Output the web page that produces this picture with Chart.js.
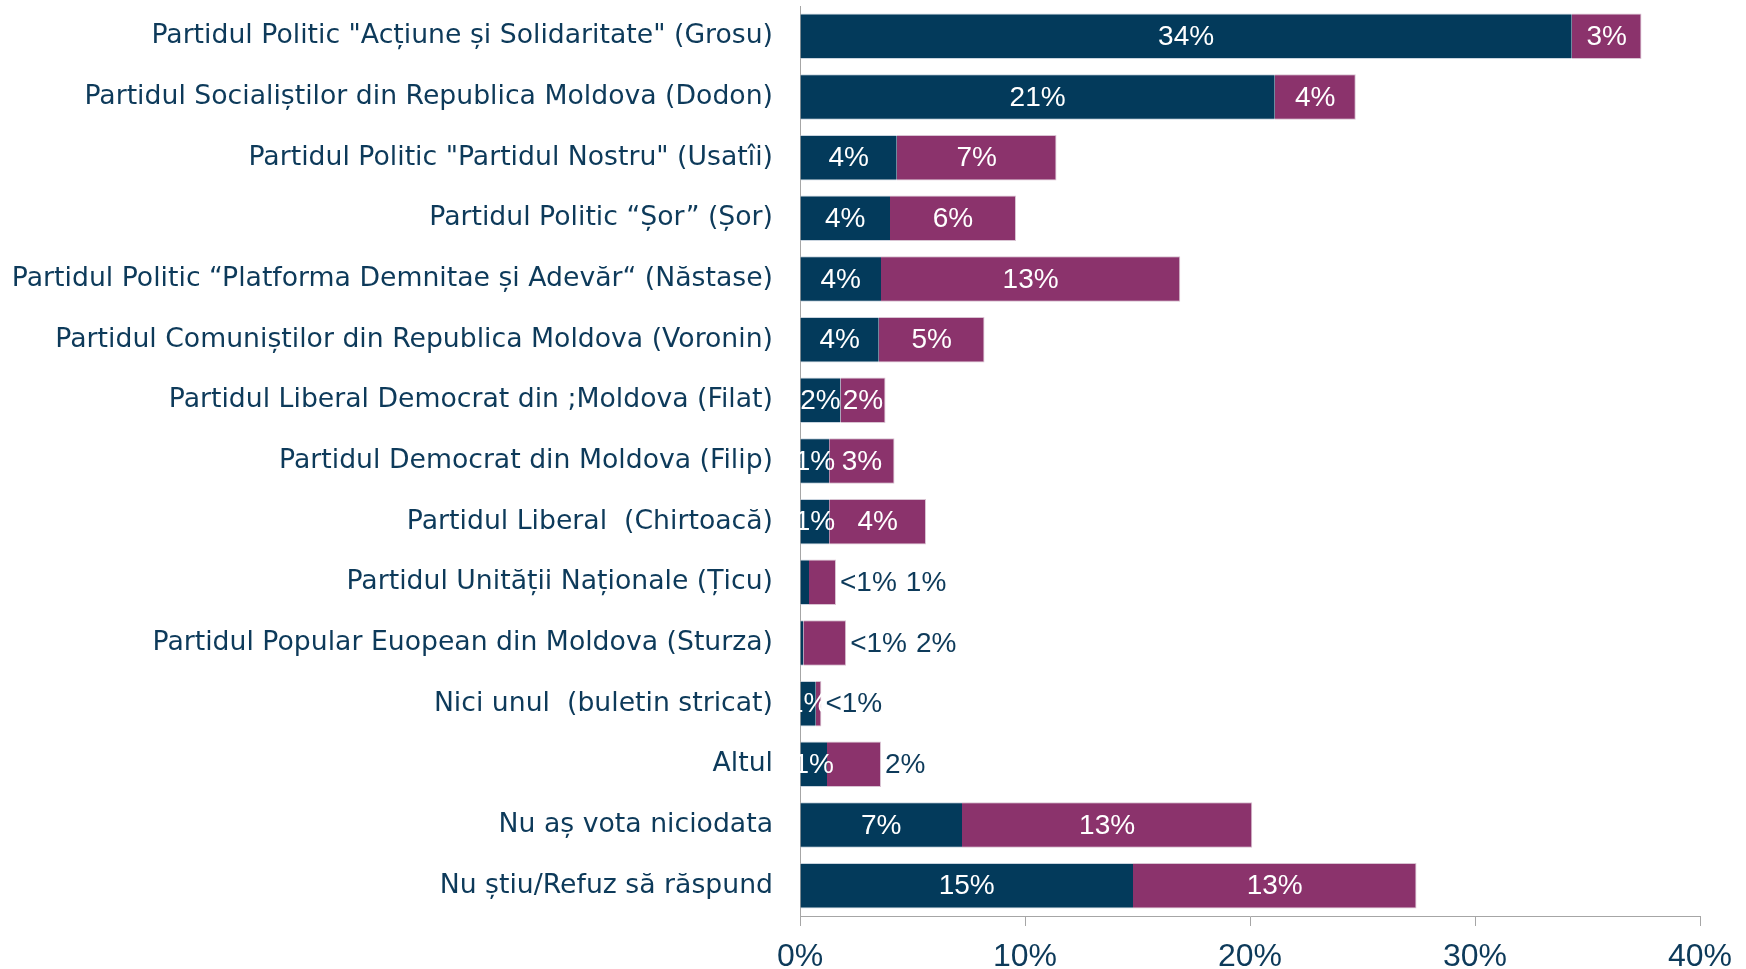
<!DOCTYPE html>
<html>
<head>
<meta charset="utf-8">
<script src="https://cdn.jsdelivr.net/npm/chart.js@4"></script>
<style>
  html, body { margin: 0; padding: 0; background: #fff; }
  #wrap { width: 1746px; height: 969px; }
</style>
</head>
<body>
<div id="wrap"><canvas id="chart"></canvas></div>
<script>
const categories = [
    'Partidul Politic "Acțiune și Solidaritate" (Grosu)',
    'Partidul Socialiștilor din Republica Moldova (Dodon)',
    'Partidul Politic "Partidul Nostru" (Usatîi)',
    'Partidul Politic “Șor” (Șor)',
    'Partidul Politic “Platforma Demnitae și Adevăr“ (Năstase)',
    'Partidul Comuniștilor din Republica Moldova (Voronin)',
    'Partidul Liberal Democrat din ;Moldova (Filat)',
    'Partidul Democrat din Moldova (Filip)',
    'Partidul Liberal  (Chirtoacă)',
    'Partidul Unității Naționale (Țicu)',
    'Partidul Popular Euopean din Moldova (Sturza)',
    'Nici unul  (buletin stricat)',
    'Altul',
    'Nu aș vota niciodata',
    'Nu știu/Refuz să răspund'
];

// first part of each bar (dark) and second part (magenta), in percent
const firstValues = [34.3, 21.1, 4.3, 4.0, 3.6, 3.5, 1.8, 1.3, 1.3, 0.4, 0.15, 0.7, 1.2, 7.2, 14.8];
const secondValues = [3.1, 3.6, 7.1, 5.6, 13.3, 4.7, 2.0, 2.9, 4.3, 1.2, 1.9, 0.25, 2.4, 12.9, 12.6];

const xTicks = [0, 10, 20, 30, 40];

const navy = '#033a5b';
const magenta = '#8b336c';
const textColor = '#0d3a5a';

// labels that Excel put to the right of the bar, in dark text
const outsideLabels = new Set(['0-9', '0-10', '1-9', '1-10', '1-11', '1-12']);

function pctLabel(v) {
    return v < 0.5 ? '<1%' : Math.round(v) + '%';
}

const barLabels = {
    id: 'barLabels',
    afterDatasetsDraw(chart) {
        const ctx = chart.ctx;
        ctx.save();
        ctx.textBaseline = 'middle';
        ctx.font = '28px "Liberation Sans Narrow", sans-serif';
        const n = chart.data.labels.length;
        for (let i = 0; i < n; i++) {
            let outX = null;
            chart.data.datasets.forEach((ds, d) => {
                const meta = chart.getDatasetMeta(d);
                const bar = meta.data[i];
                const text = pctLabel(ds.data[i]);
                if (outsideLabels.has(d + '-' + i)) {
                    if (outX === null) {
                        const last = chart.getDatasetMeta(chart.data.datasets.length - 1).data[i];
                        outX = last.x + 4;
                    }
                    ctx.fillStyle = textColor;
                    ctx.textAlign = 'left';
                    ctx.fillText(text, outX, bar.y + 1);
                    outX += ctx.measureText(text).width + 9;
                } else {
                    ctx.fillStyle = '#ffffff';
                    ctx.textAlign = 'center';
                    ctx.fillText(text, (bar.base + bar.x) / 2, bar.y + 1);
                }
            });
        }
        ctx.restore();
    }
};

new Chart(document.getElementById('chart'), {
    type: 'bar',
    data: {
        labels: categories,
        datasets: [{
            label: 'Sigur',
            data: firstValues,
            backgroundColor: navy,
            borderColor: '#c9d4df',
            borderWidth: { top: 1, bottom: 1 },
            borderSkipped: false,
            barPercentage: 0.75,
            categoryPercentage: 1
        }, {
            label: 'Probabil',
            data: secondValues,
            backgroundColor: magenta,
            borderColor: '#d9c3d2',
            borderWidth: { top: 1, bottom: 1, right: 1 },
            borderSkipped: false,
            barPercentage: 0.75,
            categoryPercentage: 1
        }]
    },
    options: {
        indexAxis: 'y',
        responsive: true,
        maintainAspectRatio: false,
        animation: false,
        layout: { padding: { top: 6, right: 46, left: 0, bottom: 0 } },
        plugins: {
            legend: { display: false },
            tooltip: { enabled: false }
        },
        scales: {
            x: {
                stacked: true,
                min: 0,
                max: 40,
                afterBuildTicks(axis) {
                    axis.ticks = xTicks.map(v => ({ value: v }));
                },
                afterFit(axis) {
                    axis.height = 53;
                    axis.paddingLeft = 0;
                    axis.paddingRight = 0;
                },
                grid: {
                    drawOnChartArea: false,
                    drawTicks: true,
                    tickLength: 10,
                    color: '#a6a6a6'
                },
                border: { display: true, color: '#a6a6a6', width: 1 },
                ticks: {
                    padding: 12,
                    color: textColor,
                    font: { family: '"Liberation Sans Narrow", sans-serif', size: 32 },
                    callback: v => v + '%'
                }
            },
            y: {
                stacked: true,
                afterFit(axis) {
                    axis.width = 800;
                    axis.paddingTop = 0;
                    axis.paddingBottom = 0;
                },
                grid: { display: false, drawTicks: false },
                border: { display: true, color: '#a6a6a6', width: 1 },
                ticks: {
                    padding: 27,
                    color: textColor,
                    autoSkip: false,
                    font: { family: '"DejaVu Sans", sans-serif', size: 26.7 }
                }
            }
        }
    },
    plugins: [barLabels]
});
</script>
</body>
</html>
